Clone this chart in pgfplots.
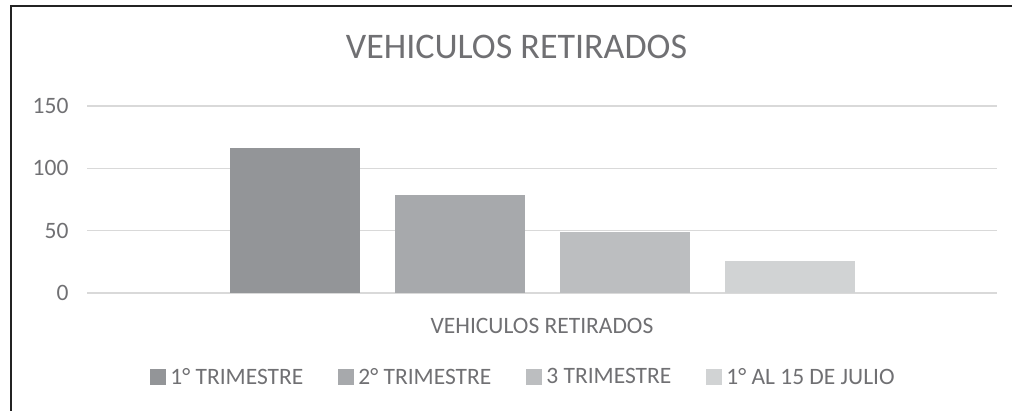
\documentclass[border=0pt]{standalone}
\usepackage{fontspec}
\setmainfont{Carlito}
\usepackage{pgfplots}
\pgfplotsset{compat=1.18}
\definecolor{barA}{RGB}{147,149,152}
\definecolor{barB}{RGB}{167,169,172}
\definecolor{barC}{RGB}{188,190,192}
\definecolor{barD}{RGB}{209,211,212}
\definecolor{txt}{RGB}{112,112,115}
\definecolor{gridc}{RGB}{217,217,217}
\definecolor{frame}{RGB}{35,35,35}
\begin{document}
\begin{tikzpicture}
\useasboundingbox (0,0) rectangle (1012pt,-411pt);
% frame (left and top edges only, the rest is cropped)
\draw[frame, line width=2pt] (10.5pt,-411pt) -- (10.5pt,-6.5pt) -- (1012pt,-6.5pt);
\node[txt, font=\fontsize{36}{40}\selectfont, anchor=center] at (516.5pt,-47pt) {VEHICULOS RETIRADOS};
\begin{axis}[
    at={(87pt,-293pt)}, anchor=south west,
    scale only axis,
    width=910pt, height=187pt,
    xmin=-455, xmax=455,
    ymin=0, ymax=150,
    ytick={0,50,100,150},
    xtick={0}, xticklabels={VEHICULOS RETIRADOS},
    ybar, bar width=130,
    ymajorgrids,
    grid style={gridc, line width=1.5pt},
    axis line style={draw=none},
    tick style={draw=none},
    ticklabel style={txt, font=\fontsize{23.5}{26}\selectfont},
    /pgf/number format/assume math mode=true,
    yticklabel style={xshift=-15pt},
    xticklabel style={yshift=-17pt},
    legend columns=4,
    legend style={at={(0.4786,-0.449)}, anchor=center, draw=none, fill=none,
        font=\fontsize{23.5}{26}\selectfont, text=txt,
        nodes={inner sep=0pt},
        /tikz/every odd column/.append style={column sep=4pt},
        /tikz/every even column/.append style={column sep=35pt}},
    legend image code/.code={\fill[#1] (0pt,-8pt) rectangle (16pt,8pt);},
]
\addplot[fill=barA, draw=none, bar shift=-247.5] coordinates {(0,116)};
\addlegendentry{1° TRIMESTRE}
\addplot[fill=barB, draw=none, bar shift=-82.5] coordinates {(0,79)};
\addlegendentry{2° TRIMESTRE}
\addplot[fill=barC, draw=none, bar shift=82.5] coordinates {(0,49)};
\addlegendentry{3 TRIMESTRE}
\addplot[fill=barD, draw=none, bar shift=247.5] coordinates {(0,26)};
\addlegendentry{1° AL 15 DE JULIO}
\end{axis}
\end{tikzpicture}
\end{document}
